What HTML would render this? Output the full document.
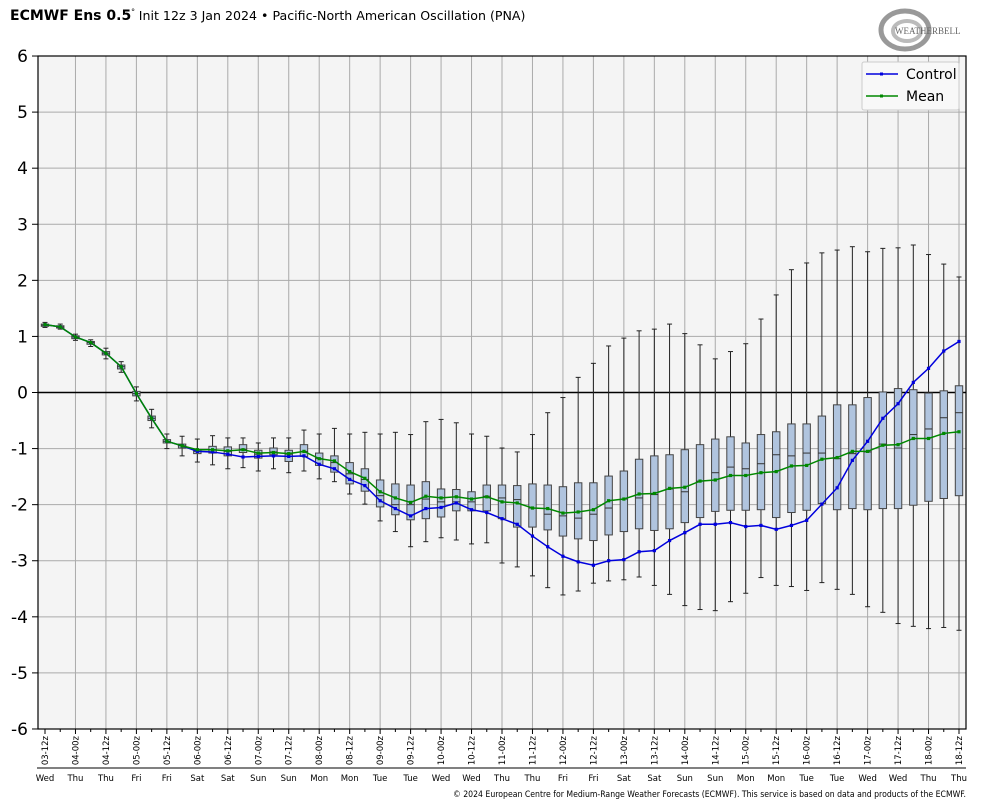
<!DOCTYPE html>
<html><head><meta charset="utf-8"><style>
html,body{margin:0;padding:0;background:#fff;}
svg{display:block;font-family:"Liberation Sans","DejaVu Sans",sans-serif;}
</style></head><body>
<svg id="chart" width="984" height="808" viewBox="0 0 984 808" xmlns="http://www.w3.org/2000/svg">
<text x="10" y="20" font-size="14" fill="#000"><tspan font-weight="bold" font-family="DejaVu Sans, sans-serif">ECMWF Ens 0.5</tspan><tspan font-size="9" dy="-5">°</tspan><tspan dy="5" font-family="DejaVu Sans, sans-serif" font-size="12.6"> Init 12z 3 Jan 2024 • Pacific-North American Oscillation (PNA)</tspan></text>
<g>
<ellipse cx="905" cy="30" rx="24" ry="19" fill="none" stroke="#999" stroke-width="5"/>
<ellipse cx="907" cy="31" rx="14" ry="10" fill="none" stroke="#bbb" stroke-width="4"/>
<text x="895" y="34" font-size="9" fill="#666" font-family="Liberation Serif, serif">WEATHERBELL</text>
</g>
<rect x="38" y="56" width="928" height="673" fill="#f4f4f4"/>
<g id="grid"></g>
<g id="marks"></g>
<rect x="38" y="56" width="928" height="673" fill="none" stroke="#000" stroke-width="1.2"/>
<g id="axes"></g>
<g>
<rect x="862" y="62" width="97" height="48" fill="#f8f8f8" stroke="#ccc" rx="2"/>
<line x1="866" y1="74" x2="898" y2="74" stroke="#0000dd" stroke-width="1.5"/><rect x="880" y="72.5" width="3" height="3" fill="#0000dd"/>
<text x="906" y="79" font-size="14" font-family="DejaVu Sans, sans-serif">Control</text>
<line x1="866" y1="96" x2="898" y2="96" stroke="#008800" stroke-width="1.5"/><rect x="880" y="94.5" width="3" height="3" fill="#008800"/>
<text x="906" y="101" font-size="14" font-family="DejaVu Sans, sans-serif">Mean</text>
</g>
<text x="966" y="797" font-size="8.5" text-anchor="end" textLength="513" lengthAdjust="spacingAndGlyphs" font-family="DejaVu Sans, sans-serif">© 2024 European Centre for Medium-Range Weather Forecasts (ECMWF). This service is based on data and products of the ECMWF.</text>
</svg>
<script>
const control=[1.21,1.17,0.99,0.89,0.70,0.46,-0.02,-0.46,-0.87,-0.95,-1.05,-1.06,-1.10,-1.15,-1.14,-1.13,-1.14,-1.13,-1.28,-1.36,-1.55,-1.66,-1.93,-2.07,-2.20,-2.07,-2.05,-1.97,-2.09,-2.14,-2.25,-2.35,-2.56,-2.75,-2.92,-3.02,-3.08,-3.00,-2.98,-2.84,-2.82,-2.64,-2.50,-2.35,-2.35,-2.32,-2.39,-2.37,-2.44,-2.37,-2.28,-1.99,-1.70,-1.21,-0.87,-0.46,-0.20,0.18,0.43,0.74,0.91];
const mean=[1.21,1.17,0.99,0.89,0.70,0.46,-0.02,-0.46,-0.87,-0.95,-1.02,-1.02,-1.04,-1.02,-1.08,-1.07,-1.09,-1.05,-1.18,-1.22,-1.41,-1.53,-1.77,-1.88,-1.96,-1.85,-1.88,-1.86,-1.90,-1.86,-1.95,-1.97,-2.06,-2.07,-2.15,-2.13,-2.09,-1.93,-1.90,-1.81,-1.80,-1.71,-1.69,-1.58,-1.56,-1.48,-1.48,-1.43,-1.41,-1.31,-1.30,-1.19,-1.16,-1.05,-1.05,-0.94,-0.93,-0.82,-0.82,-0.73,-0.70];
const q3=[1.22,1.19,1.01,0.91,0.73,0.49,0.02,-0.42,-0.84,-0.92,-1.02,-0.96,-0.97,-0.93,-1.03,-0.99,-1.03,-0.93,-1.08,-1.13,-1.25,-1.36,-1.56,-1.63,-1.65,-1.59,-1.72,-1.73,-1.77,-1.65,-1.65,-1.66,-1.63,-1.65,-1.68,-1.61,-1.61,-1.49,-1.40,-1.19,-1.13,-1.11,-1.02,-0.93,-0.83,-0.79,-0.90,-0.75,-0.70,-0.56,-0.56,-0.42,-0.22,-0.22,-0.09,0.01,0.07,0.05,-0.01,0.03,0.12];
const q1=[1.18,1.15,0.96,0.86,0.67,0.42,-0.06,-0.50,-0.90,-0.99,-1.09,-1.08,-1.13,-1.07,-1.17,-1.11,-1.23,-1.14,-1.30,-1.42,-1.63,-1.76,-2.04,-2.18,-2.27,-2.25,-2.22,-2.11,-2.11,-2.11,-2.25,-2.40,-2.40,-2.45,-2.56,-2.61,-2.64,-2.54,-2.48,-2.43,-2.46,-2.43,-2.32,-2.23,-2.12,-2.10,-2.10,-2.09,-2.23,-2.14,-2.10,-1.98,-2.09,-2.07,-2.09,-2.07,-2.07,-2.01,-1.94,-1.89,-1.84];
const median=[1.20,1.17,0.99,0.89,0.70,0.46,-0.02,-0.46,-0.87,-0.95,-1.05,-1.02,-1.05,-1.01,-1.10,-1.06,-1.10,-1.05,-1.18,-1.25,-1.45,-1.55,-1.84,-2.00,-2.00,-1.90,-1.95,-1.95,-1.95,-1.85,-1.88,-1.91,-2.06,-2.17,-2.20,-2.24,-2.17,-2.06,-1.90,-1.88,-1.82,-1.72,-1.77,-1.58,-1.43,-1.33,-1.36,-1.27,-1.11,-1.13,-1.08,-1.08,-1.18,-1.09,-1.06,-0.92,-0.99,-0.75,-0.65,-0.45,-0.36];
const wmax=[1.25,1.22,1.04,0.94,0.79,0.55,0.10,-0.30,-0.74,-0.78,-0.83,-0.77,-0.81,-0.81,-0.90,-0.81,-0.81,-0.67,-0.74,-0.64,-0.74,-0.71,-0.74,-0.71,-0.75,-0.52,-0.48,-0.54,-0.74,-0.78,-0.99,-1.06,-0.75,-0.36,-0.09,0.27,0.52,0.83,0.97,1.10,1.13,1.22,1.05,0.85,0.60,0.73,0.87,1.31,1.74,2.19,2.31,2.49,2.54,2.60,2.51,2.57,2.58,2.63,2.46,2.29,2.06];
const wmin=[1.16,1.13,0.93,0.82,0.60,0.36,-0.15,-0.63,-1.00,-1.13,-1.24,-1.29,-1.36,-1.34,-1.40,-1.36,-1.43,-1.40,-1.54,-1.59,-1.81,-1.99,-2.29,-2.48,-2.75,-2.66,-2.59,-2.63,-2.70,-2.68,-3.04,-3.11,-3.27,-3.48,-3.61,-3.54,-3.40,-3.36,-3.34,-3.29,-3.44,-3.60,-3.80,-3.87,-3.89,-3.73,-3.58,-3.30,-3.44,-3.46,-3.53,-3.39,-3.51,-3.60,-3.82,-3.92,-4.12,-4.17,-4.21,-4.19,-4.24];
const yTicks=[6,5,4,3,2,1,0,-1,-2,-3,-4,-5,-6];
const dayLabels=["Wed","Thu","Thu","Fri","Fri","Sat","Sat","Sun","Sun","Mon","Mon","Tue","Tue","Wed","Wed","Thu","Thu","Fri","Fri","Sat","Sat","Sun","Sun","Mon","Mon","Tue","Tue","Wed","Wed","Thu","Thu"];
const timeLabels=["03-12z","04-00z","04-12z","05-00z","05-12z","06-00z","06-12z","07-00z","07-12z","08-00z","08-12z","09-00z","09-12z","10-00z","10-12z","11-00z","11-12z","12-00z","12-12z","13-00z","13-12z","14-00z","14-12z","15-00z","15-12z","16-00z","16-12z","17-00z","17-12z","18-00z","18-12z"];

const NS="http://www.w3.org/2000/svg";
const N=control.length;
function xs(i){return 45+i*(959-45)/(N-1);}
function ys(v){return 392.5-v*56.08;}
function mk(tag,attrs,parent){const e=document.createElementNS(NS,tag);for(const k in attrs)e.setAttribute(k,attrs[k]);parent.appendChild(e);return e;}
const grid=document.getElementById('grid'),marks=document.getElementById('marks'),axes=document.getElementById('axes');
yTicks.forEach(v=>{
  const y=ys(v);
  if(v!==0&&v!==6&&v!==-6){const l=mk('line',{x1:38,x2:966,y1:y,y2:y,stroke:'#aaa','stroke-width':1},grid);
  
  }
  mk('line',{x1:32,x2:38,y1:y,y2:y,stroke:'#000'},axes);
  const t=mk('text',{x:28,y:y+6,'font-size':17,'text-anchor':'end','font-family':'DejaVu Sans, sans-serif'},axes);
  t.textContent=v;
  
  
});
for(let i=0;i<N;i++){
  const x=xs(i);
  if(i%2===0){
    if(i>0){const g=mk('line',{x1:x,x2:x,y1:56,y2:729,stroke:'#aaa'},grid);
    
    }
    mk('line',{x1:x,x2:x,y1:729,y2:734,stroke:'#000'},axes);
    const k=i/2;
    const t=mk('text',{x:0,y:0,'font-size':8.5,'text-anchor':'end','font-family':'DejaVu Sans, sans-serif',transform:`translate(${x+3},736) rotate(-90)`},axes);
    t.textContent=timeLabels[k];
    
    
    const d=mk('text',{x:x,y:781,'font-size':8.5,'text-anchor':'middle','font-family':'DejaVu Sans, sans-serif'},axes);
    d.textContent=dayLabels[k];
    
    
  } else {
    mk('line',{x1:x,x2:x,y1:729,y2:732,stroke:'#000'},axes);
  }
}
mk('line',{x1:37,x2:966,y1:768,y2:768,stroke:'#000','stroke-width':1},axes);
const z=mk('line',{x1:38,x2:966,y1:ys(0),y2:ys(0),stroke:'#000','stroke-width':1.5},grid);


for(let i=0;i<N;i++){
  const x=xs(i),g=mk('g',{},marks);
  
  
  mk('line',{x1:x,x2:x,y1:ys(wmax[i]),y2:ys(wmin[i]),stroke:'#222','stroke-width':1},g);
  mk('line',{x1:x-2.5,x2:x+2.5,y1:ys(wmax[i]),y2:ys(wmax[i]),stroke:'#222'},g);
  mk('line',{x1:x-2.5,x2:x+2.5,y1:ys(wmin[i]),y2:ys(wmin[i]),stroke:'#222'},g);
  const top=ys(q3[i]),bot=ys(q1[i]);
  mk('rect',{x:x-3.7,y:top,width:7.4,height:Math.max(bot-top,1.5),fill:'#b0c4de',stroke:'#444','stroke-width':1},g);
  mk('line',{x1:x-3.7,x2:x+3.7,y1:ys(median[i]),y2:ys(median[i]),stroke:'#333'},g);
}
function series(arr,color,name){
  const pts=arr.map((v,i)=>xs(i)+','+ys(v)).join(' ');
  const p=mk('polyline',{points:pts,fill:'none',stroke:color,'stroke-width':1.5},marks);
  
  
  arr.forEach((v,i)=>{const r=mk('rect',{x:xs(i)-1.6,y:ys(v)-1.6,width:3.2,height:3.2,fill:color},marks);
  
  });
}
series(control,'#0000dd','control');
series(mean,'#008800','mean');
</script>
</body></html>
